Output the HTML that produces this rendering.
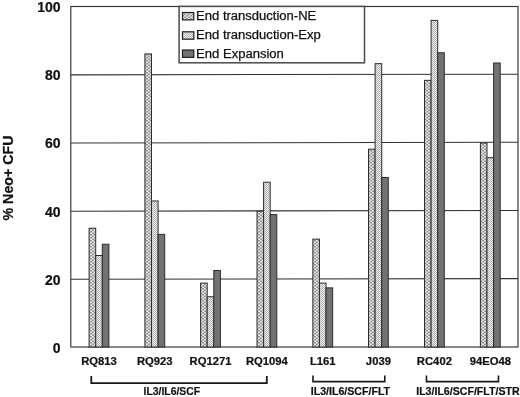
<!DOCTYPE html>
<html><head><meta charset="utf-8"><title>Neo+ CFU chart</title>
<style>
html,body{margin:0;padding:0;background:#fff;}
body{width:520px;height:397px;overflow:hidden;}
svg{display:block;}
text{font-family:"Liberation Sans",Arial,Helvetica,sans-serif;fill:#111;}
.b{font-weight:bold;stroke:#111;stroke-width:0.2px;}
</style></head><body>
<svg width="520" height="397" viewBox="0 0 520 397">
<defs>
<pattern id="p1" width="4" height="6" patternUnits="userSpaceOnUse">
<rect width="4" height="6" fill="#c2c2c2"/>
<rect x="0.2" y="0.2" width="1.3" height="1.3" fill="#fafafa"/>
<rect x="2.2" y="1.7" width="1.3" height="1.3" fill="#fafafa"/>
<rect x="0.5" y="3.2" width="1.3" height="1.3" fill="#fafafa"/>
<rect x="2.5" y="4.7" width="1.3" height="1.3" fill="#fafafa"/>
<rect x="2.4" y="0.1" width="1.1" height="1.1" fill="#5e5e5e"/>
<rect x="0.4" y="1.7" width="1.1" height="1.1" fill="#5e5e5e"/>
<rect x="2.7" y="3.2" width="1.1" height="1.1" fill="#666"/>
<rect x="0.7" y="4.8" width="1.1" height="1.1" fill="#5e5e5e"/>
</pattern>
<pattern id="p2" width="2" height="2" patternUnits="userSpaceOnUse">
<rect width="2" height="2" fill="#efefef"/>
<rect x="0" y="0" width="1" height="1" fill="#b0b0b0"/>
<rect x="1" y="1" width="1" height="1" fill="#b0b0b0"/>
</pattern>
</defs>
<rect width="520" height="397" fill="#fff"/>

<g stroke="#333" stroke-width="1.05" fill="none">
<line x1="70.8" y1="279.30" x2="518.0" y2="278.60"/>
<line x1="70.8" y1="211.15" x2="518.0" y2="210.45"/>
<line x1="70.8" y1="143.00" x2="518.0" y2="142.30"/>
<line x1="70.8" y1="74.85" x2="518.0" y2="74.15"/>
<rect x="70.8" y="6.5" width="447.20" height="340.50" stroke-width="1.15"/>
</g>
<g stroke="#2c2c2c" stroke-width="1">
<rect x="89.10" y="228.24" width="6.6" height="118.76" fill="url(#p1)"/>
<rect x="95.70" y="255.50" width="6.6" height="91.50" fill="url(#p2)"/>
<rect x="102.30" y="244.25" width="6.6" height="102.75" fill="#727272"/>
<rect x="144.90" y="53.94" width="6.6" height="293.06" fill="url(#p1)"/>
<rect x="151.50" y="200.98" width="6.6" height="146.02" fill="url(#p2)"/>
<rect x="158.10" y="234.37" width="6.6" height="112.63" fill="#727272"/>
<rect x="200.60" y="283.10" width="6.6" height="63.90" fill="url(#p1)"/>
<rect x="207.20" y="296.73" width="6.6" height="50.27" fill="url(#p2)"/>
<rect x="213.80" y="270.49" width="6.6" height="76.51" fill="#727272"/>
<rect x="257.00" y="211.20" width="6.6" height="135.80" fill="url(#p1)"/>
<rect x="263.60" y="182.24" width="6.6" height="164.76" fill="url(#p2)"/>
<rect x="270.20" y="214.61" width="6.6" height="132.39" fill="#727272"/>
<rect x="312.85" y="239.14" width="6.6" height="107.86" fill="url(#p1)"/>
<rect x="319.45" y="283.10" width="6.6" height="63.90" fill="url(#p2)"/>
<rect x="326.05" y="287.87" width="6.6" height="59.13" fill="#727272"/>
<rect x="368.50" y="149.18" width="6.6" height="197.82" fill="url(#p1)"/>
<rect x="375.10" y="63.66" width="6.6" height="283.34" fill="url(#p2)"/>
<rect x="381.70" y="177.47" width="6.6" height="169.53" fill="#727272"/>
<rect x="424.50" y="80.35" width="6.6" height="266.65" fill="url(#p1)"/>
<rect x="431.10" y="20.38" width="6.6" height="326.62" fill="url(#p2)"/>
<rect x="437.70" y="52.75" width="6.6" height="294.25" fill="#727272"/>
<rect x="480.40" y="143.05" width="6.6" height="203.95" fill="url(#p1)"/>
<rect x="487.00" y="157.70" width="6.6" height="189.30" fill="url(#p2)"/>
<rect x="493.60" y="62.97" width="6.6" height="284.03" fill="#727272"/>
</g>
<rect x="179.1" y="6.4" width="185.4" height="56.4" fill="#fff" stroke="#4a4a4a" stroke-width="1.5"/>
<g stroke="#1e1e1e" stroke-width="1.2">
<rect x="182.5" y="12.5" width="11.3" height="7.4" fill="url(#p1)"/>
<rect x="182.5" y="31.8" width="11.3" height="7.4" fill="url(#p2)"/>
<rect x="182.5" y="50" width="11.3" height="7.4" fill="#727272"/>
</g>
<text x="196.1" y="20.2" font-size="12.3" stroke="#111" stroke-width="0.25" textLength="120.2" lengthAdjust="spacingAndGlyphs">End transduction-NE</text>
<text x="196.1" y="39.1" font-size="12.3" stroke="#111" stroke-width="0.25" textLength="124.6" lengthAdjust="spacingAndGlyphs">End transduction-Exp</text>
<text x="196.1" y="57.5" font-size="12.3" stroke="#111" stroke-width="0.25" textLength="87.8" lengthAdjust="spacingAndGlyphs">End Expansion</text>
<text class="b" x="60.6" y="352.90" font-size="14" text-anchor="end">0</text>
<text class="b" x="60.6" y="284.75" font-size="14" text-anchor="end">20</text>
<text class="b" x="60.6" y="216.60" font-size="14" text-anchor="end">40</text>
<text class="b" x="60.6" y="148.45" font-size="14" text-anchor="end">60</text>
<text class="b" x="60.6" y="80.30" font-size="14" text-anchor="end">80</text>
<text class="b" x="60.6" y="12.15" font-size="14" text-anchor="end">100</text>
<text class="b" font-size="14.2" text-anchor="middle" textLength="85" lengthAdjust="spacingAndGlyphs" transform="translate(13.2,178) rotate(-90)">% Neo+ CFU</text>
<text class="b" x="99" y="364.8" font-size="10.6" text-anchor="middle" textLength="35.66" lengthAdjust="spacingAndGlyphs">RQ813</text>
<text class="b" x="154.8" y="364.8" font-size="10.6" text-anchor="middle" textLength="35.66" lengthAdjust="spacingAndGlyphs">RQ923</text>
<text class="b" x="210.5" y="364.8" font-size="10.6" text-anchor="middle" textLength="41.91" lengthAdjust="spacingAndGlyphs">RQ1271</text>
<text class="b" x="266.9" y="364.8" font-size="10.6" text-anchor="middle" textLength="41.91" lengthAdjust="spacingAndGlyphs">RQ1094</text>
<text class="b" x="322.75" y="364.8" font-size="10.6" text-anchor="middle" textLength="25.66" lengthAdjust="spacingAndGlyphs">L161</text>
<text class="b" x="378.4" y="364.8" font-size="10.6" text-anchor="middle" textLength="25.03" lengthAdjust="spacingAndGlyphs">J039</text>
<text class="b" x="434.4" y="364.8" font-size="10.6" text-anchor="middle" textLength="35.03" lengthAdjust="spacingAndGlyphs">RC402</text>
<text class="b" x="490.3" y="364.8" font-size="10.6" text-anchor="middle" textLength="41.28" lengthAdjust="spacingAndGlyphs">94EO48</text>
<g stroke="#1a1a1a" stroke-width="1.6" fill="none">
<path d="M91.3 376 V383.1 H266.8 V376" stroke-width="1.8"/>
<path d="M313 375.5 V381.6 H384.8 V375.5"/>
<path d="M426.5 375.5 V381.6 H498.5 V375.5"/>
</g>
<text class="b" x="171.8" y="395.1" font-size="10.7" text-anchor="middle" textLength="56.4" lengthAdjust="spacingAndGlyphs">IL3/IL6/SCF</text>
<text class="b" x="350.4" y="395.1" font-size="10.1" text-anchor="middle" textLength="79.3" lengthAdjust="spacingAndGlyphs">IL3/IL6/SCF/FLT</text>
<text class="b" x="467.9" y="395.1" font-size="10.1" text-anchor="middle" textLength="103.4" lengthAdjust="spacingAndGlyphs">IL3/IL6/SCF/FLT/STR</text>
</svg></body></html>
